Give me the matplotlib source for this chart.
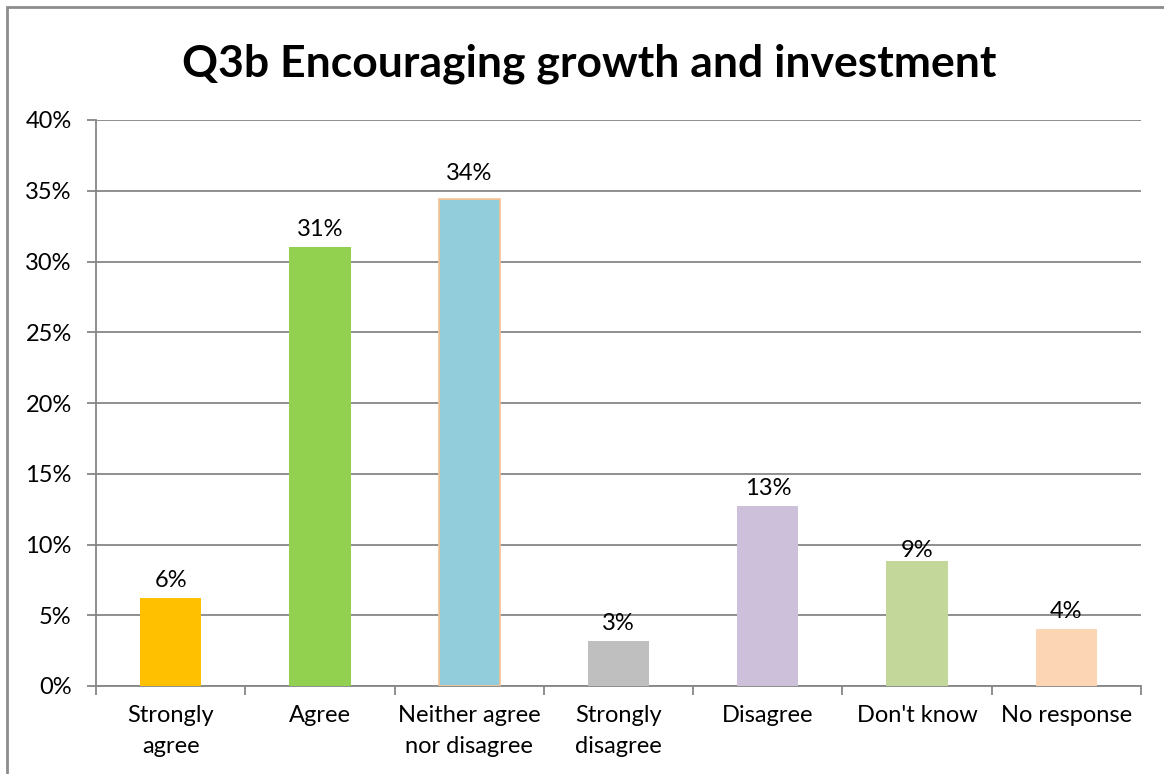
import matplotlib
matplotlib.use("Agg")
import matplotlib.pyplot as plt
from matplotlib.patches import Rectangle
from matplotlib.ticker import FixedLocator, PercentFormatter

# Survey responses (share of respondents, %)
categories = ["Strongly\nagree", "Agree", "Neither agree\nnor disagree",
              "Strongly\ndisagree", "Disagree", "Don't know", "No response"]
values = [6.2, 31.0, 34.4, 3.2, 12.7, 8.8, 4.0]
colors = ["#FFC000", "#92D050", "#92CDDC", "#BFBFBF",
          "#CCC0DA", "#C4D79B", "#FCD5B4"]
edges = ["none", "none", "#FAC090", "none", "none", "none", "none"]

# label gap above bar (points) - Excel placed a couple of them oddly
label_gap = [8, 8, 13.5, 8, 8, 3, 8]

plt.rcParams['font.family'] = ['Lato', 'DejaVu Sans']

fig = plt.figure(figsize=(11.64, 7.74), dpi=100)
ax = fig.add_axes([96 / 1164, 1 - 686 / 774, 1045 / 1164, 566 / 774])

x = range(len(categories))
ax.bar(x, values, width=0.41, color=colors, edgecolor=edges,
       linewidth=1.2, zorder=3)

for i, v in enumerate(values):
    ax.annotate(f"{round(v):d}%", (i, v), xytext=(0, label_gap[i]),
                textcoords='offset points', ha='center', va='baseline',
                fontsize=17, color='#000000', zorder=4)

ax.set_xlim(-0.5, len(categories) - 0.5)
ax.set_ylim(0, 40)
ax.set_yticks(range(0, 41, 5))
ax.yaxis.set_major_formatter(PercentFormatter(decimals=0))
ax.tick_params(axis='y', labelsize=17, length=6.5, width=1.3,
               color='#868686', pad=11)

ax.set_xticks(list(x))
ax.set_xticklabels(categories, fontsize=17, linespacing=1.55)
ax.tick_params(axis='x', length=0, pad=14)
ax.xaxis.set_minor_locator(FixedLocator([i - 0.5 for i in range(len(categories) + 1)]))
ax.tick_params(axis='x', which='minor', length=6.5, width=1.3, color='#868686')

ax.grid(axis='y', color='#868686', linewidth=1.3, zorder=0)
for side in ['top', 'right']:
    ax.spines[side].set_visible(False)
for side in ['left', 'bottom']:
    ax.spines[side].set_color('#868686')
    ax.spines[side].set_linewidth(1.3)

fig.text(589 / 1164, 1 - 64 / 774, "Q3b Encouraging growth and investment",
         ha='center', va='center', fontsize=32, fontweight='bold')

# outer chart frame
fig.add_artist(Rectangle((7 / 1164, -0.05), 1.1, 1 - 7 / 774 + 0.05,
                         transform=fig.transFigure, fill=False,
                         edgecolor='#8C8C8C', linewidth=2))

fig.savefig("out.png", dpi=100)
